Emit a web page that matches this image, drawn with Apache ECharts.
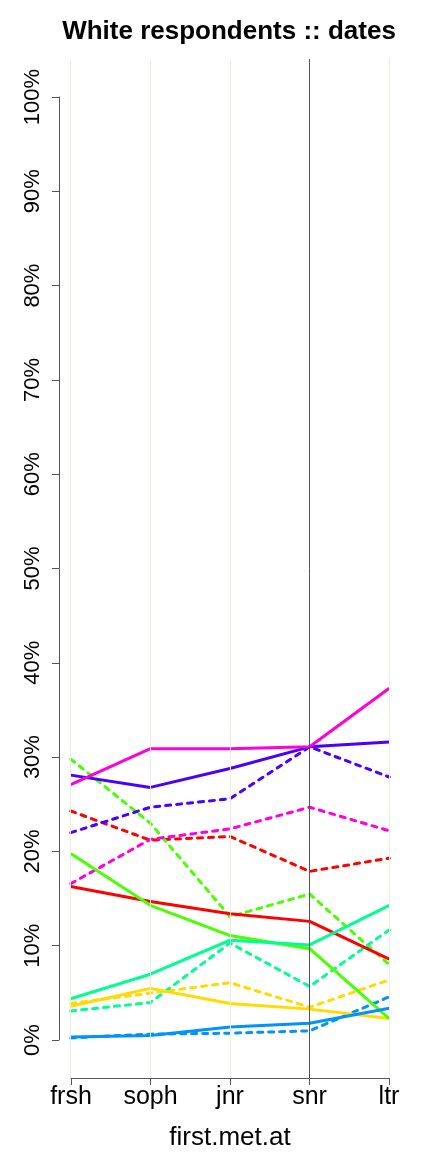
<!DOCTYPE html>
<html>
<head>
<meta charset="utf-8">
<script src="https://cdn.jsdelivr.net/npm/echarts@6/dist/echarts.min.js"></script>
<style>
html, body { margin: 0; padding: 0; background: #fff; }
#chart { width: 432px; height: 1152px; }
</style>
</head>
<body>
<div id="chart"></div>
<script>
// categories and tick labels
const categories = ['frsh', 'soph', 'jnr', 'snr', 'ltr'];
const yTicks = [0, 10, 20, 30, 40, 50, 60, 70, 80, 90, 100];

// percent values, solid lines
const redSolid = [16.3, 14.7, 13.4, 12.6, 8.6];
const goldSolid = [3.6, 5.5, 3.9, 3.3, 2.3];
const greenSolid = [19.8, 14.3, 11.1, 9.7, 2.3];
const springSolid = [4.4, 7.0, 10.6, 10.1, 14.3];
const azureSolid = [0.35, 0.5, 1.4, 1.8, 3.4];
const violetSolid = [28.1, 26.8, 28.8, 31.1, 31.6];
const magentaSolid = [27.1, 30.9, 30.9, 31.1, 37.3];

// percent values, dashed lines
const redDashed = [24.3, 21.2, 21.6, 17.9, 19.3];
const goldDashed = [3.9, 5.0, 6.1, 3.5, 6.4];
const greenDashed = [29.8, 23.0, 13.1, 15.5, 8.0];
const springDashed = [3.1, 4.0, 10.3, 5.7, 11.7];
const azureDashed = [0.25, 0.65, 0.75, 1.0, 4.6];
const violetDashed = [22.0, 24.7, 25.6, 31.1, 27.9];
const magentaDashed = [16.6, 21.3, 22.4, 24.7, 22.2];

const lines = [
  { name: 'red', color: '#FF0000', solid: redSolid, dashed: redDashed },
  { name: 'gold', color: '#FFDB00', solid: goldSolid, dashed: goldDashed },
  { name: 'green', color: '#49FF00', solid: greenSolid, dashed: greenDashed },
  { name: 'spring', color: '#00FF92', solid: springSolid, dashed: springDashed },
  { name: 'azure', color: '#0092FF', solid: azureSolid, dashed: azureDashed },
  { name: 'violet', color: '#4900FF', solid: violetSolid, dashed: violetDashed },
  { name: 'magenta', color: '#FF00DB', solid: magentaSolid, dashed: magentaDashed }
];

const FONT = 'Liberation Sans, Arial, sans-serif';

function toPoints(values) {
  return values.map(function (v, i) { return [i + 1, v / 100]; });
}

const chart = echarts.init(document.getElementById('chart'));

const series = [{
  // vertical guide lines
  type: 'line',
  xAxisIndex: 0,
  yAxisIndex: 0,
  data: [],
  z: 1,
  markLine: {
    silent: true,
    symbol: 'none',
    label: { show: false },
    animation: false,
    data: categories.map(function (c, i) {
      return {
        xAxis: i + 1,
        lineStyle: c === 'snr'
          ? { color: '#555555', width: 1, type: 'solid' }
          : { color: '#EFEEDC', width: 1, type: 'solid' }
      };
    })
  }
}];

lines.forEach(function (l) {
  series.push({
    name: l.name + ' dashed',
    type: 'line',
    xAxisIndex: 0,
    yAxisIndex: 0,
    data: toPoints(l.dashed),
    symbol: 'none',
    z: 2,
    lineStyle: { color: l.color, width: 3, type: [5, 6], cap: 'round' }
  });
  series.push({
    name: l.name + ' solid',
    type: 'line',
    xAxisIndex: 0,
    yAxisIndex: 0,
    data: toPoints(l.solid),
    symbol: 'none',
    z: 3,
    lineStyle: { color: l.color, width: 3 }
  });
});

const option = {
  animation: false,
  backgroundColor: '#ffffff',
  title: {
    text: 'White respondents :: dates',
    left: 224,
    textAlign: 'center',
    top: 14,
    textStyle: { fontFamily: FONT, fontSize: 26, fontWeight: 'bold', color: '#000' }
  },
  grid: [
    // plot region (data space expanded like R)
    { left: 58, right: 30, top: 59, bottom: 74, outerBoundsMode: 'none', containLabel: false },
    // axis region (exact data range)
    { left: 71, right: 43, top: 97, bottom: 112, outerBoundsMode: 'none', containLabel: false }
  ],
  xAxis: [
    { gridIndex: 0, type: 'value', min: 0.84, max: 5.16, show: false },
    {
      gridIndex: 1, type: 'value', min: 1, max: 5, interval: 1,
      offset: 38,
      axisLine: { show: true, onZero: false, lineStyle: { color: '#555', width: 1 } },
      axisTick: { show: true, length: 7, lineStyle: { color: '#555' } },
      splitLine: { show: false },
      axisLabel: {
        margin: 7,
        fontFamily: FONT,
        fontSize: 25,
        color: '#000',
        formatter: function (v) { return categories[Math.round(v) - 1] || ''; }
      },
      name: 'first.met.at',
      nameLocation: 'middle',
      nameGap: 47,
      nameTextStyle: { fontFamily: FONT, fontSize: 26, color: '#000' }
    }
  ],
  yAxis: [
    { gridIndex: 0, type: 'value', min: -0.04, max: 1.04, show: false },
    {
      gridIndex: 1, type: 'value', min: 0, max: 1, interval: 0.1,
      offset: 12,
      axisLine: { show: true, onZero: false, lineStyle: { color: '#555', width: 1 } },
      axisTick: { show: true, length: 7, lineStyle: { color: '#555' } },
      splitLine: { show: false },
      axisLabel: {
        rotate: 90,
        margin: 15,
        fontFamily: FONT,
        fontSize: 22,
        color: '#000',
        formatter: function (v) {
          const p = Math.round(v * 100);
          return yTicks.indexOf(p) >= 0 ? p + '%' : '';
        }
      }
    }
  ],
  series: series
};

chart.setOption(option);
</script>
</body>
</html>
